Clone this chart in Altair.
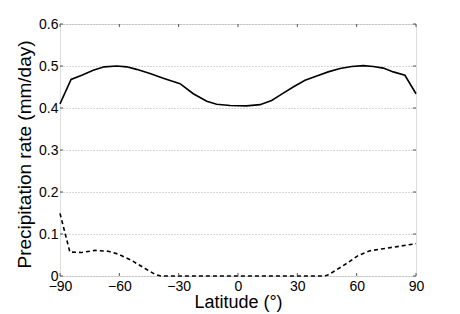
import altair as alt
import pandas as pd

solid_lat = [-90, -84.4, -79, -73.2, -67.6, -61.3, -56.3, -51.3, -44.5, -37.8, -29.3, -22.6,
             -15.8, -10.8, -4, 4.4, 11.1, 17, 22.1, 27.9, 33.9, 39.8, 45.6, 51.6, 57.5, 63.4,
             68.4, 73.5, 78.5, 84.4, 90]
solid_val = [0.410, 0.468, 0.478, 0.490, 0.498, 0.500, 0.498, 0.492, 0.482, 0.471, 0.458, 0.434,
             0.416, 0.409, 0.406, 0.405, 0.408, 0.418, 0.433, 0.450, 0.466, 0.476, 0.486, 0.494,
             0.499, 0.501, 0.499, 0.495, 0.486, 0.478, 0.434]

dash_lat = [-90, -85, -79, -72.3, -65.6, -60.5, -53.8, -47, -42, -39, 0, 43, 44.8, 48.2, 55,
            60.8, 66.7, 73.5, 81.9, 90]
dash_val = [0.149, 0.057, 0.056, 0.061, 0.059, 0.052, 0.037, 0.018, 0.004, 0.0, 0.0, 0.0, 0.001,
            0.010, 0.030, 0.049, 0.060, 0.065, 0.071, 0.077]

x_ticks = [-90, -60, -30, 0, 30, 60, 90]
y_ticks = [0, 0.1, 0.2, 0.3, 0.4, 0.5, 0.6]

W, H = 356, 252
FONT = "Liberation Sans"

df_s = pd.DataFrame({"lat": solid_lat, "val": solid_val})
df_d = pd.DataFrame({"lat": dash_lat, "val": dash_val})
df_xt = pd.DataFrame({"t": x_ticks})
df_yt = pd.DataFrame({"t": y_ticks})

xsc = alt.Scale(domain=[-90, 90], nice=False, zero=False)
ysc = alt.Scale(domain=[0, 0.6], nice=False)

xenc = alt.X("lat:Q", scale=xsc,
             axis=alt.Axis(values=x_ticks, title="Latitude (°)", ticks=False, domain=False,
                           grid=False, labelFontSize=14, labelPadding=3, labelFlush=False,
                           labelOverlap=False, titleFontSize=18,
                           titleFontWeight="normal", titleY=31, titleBaseline="alphabetic",
                           labelColor="black", titleColor="black", labelFont=FONT, titleFont=FONT))
yenc = alt.Y("val:Q", scale=ysc,
             axis=alt.Axis(values=y_ticks, format=".1~f", title="Precipitation rate (mm/day)",
                           ticks=False, domain=False, grid=True, gridDash=[1, 2],
                           gridColor="#b0b0b0", gridWidth=1, labelFontSize=14, labelPadding=2,
                           labelFlush=False, labelOverlap=False,
                           titleFontSize=19, titleFontWeight="normal", titleX=-35.5, titleY=130,
                           titleAngle=270, titleBaseline="middle", titleAlign="center",
                           labelColor="black", titleColor="black", labelFont=FONT, titleFont=FONT))

solid = alt.Chart(df_s).mark_line(color="black", strokeWidth=1.6).encode(x=xenc, y=yenc)
dashed = alt.Chart(df_d).mark_line(color="black", strokeWidth=1.6, strokeDash=[4, 3]).encode(
    x=alt.X("lat:Q", scale=xsc), y=alt.Y("val:Q", scale=ysc))

tc = "#555555"
xt_bot = alt.Chart(df_xt).mark_rule(color=tc, strokeWidth=1).encode(
    x=alt.X("t:Q", scale=xsc), y=alt.value(H), y2=alt.value(H - 3))
xt_top = alt.Chart(df_xt).mark_rule(color=tc, strokeWidth=1).encode(
    x=alt.X("t:Q", scale=xsc), y=alt.value(0), y2=alt.value(3))
yt_left = alt.Chart(df_yt).mark_rule(color=tc, strokeWidth=1).encode(
    y=alt.Y("t:Q", scale=ysc), x=alt.value(0), x2=alt.value(3))
yt_right = alt.Chart(df_yt).mark_rule(color=tc, strokeWidth=1).encode(
    y=alt.Y("t:Q", scale=ysc), x=alt.value(W), x2=alt.value(W - 3))

chart = alt.layer(solid, dashed, xt_bot, xt_top, yt_left, yt_right).properties(
    width=W, height=H,
    autosize=alt.AutoSizeParams(type="none"),
    padding={"left": 52, "top": 16, "right": 36, "bottom": 38},
).configure_view(stroke=tc, strokeWidth=1).configure(background="white")

chart.save("out.html", embed_options={"renderer": "svg", "actions": False})
